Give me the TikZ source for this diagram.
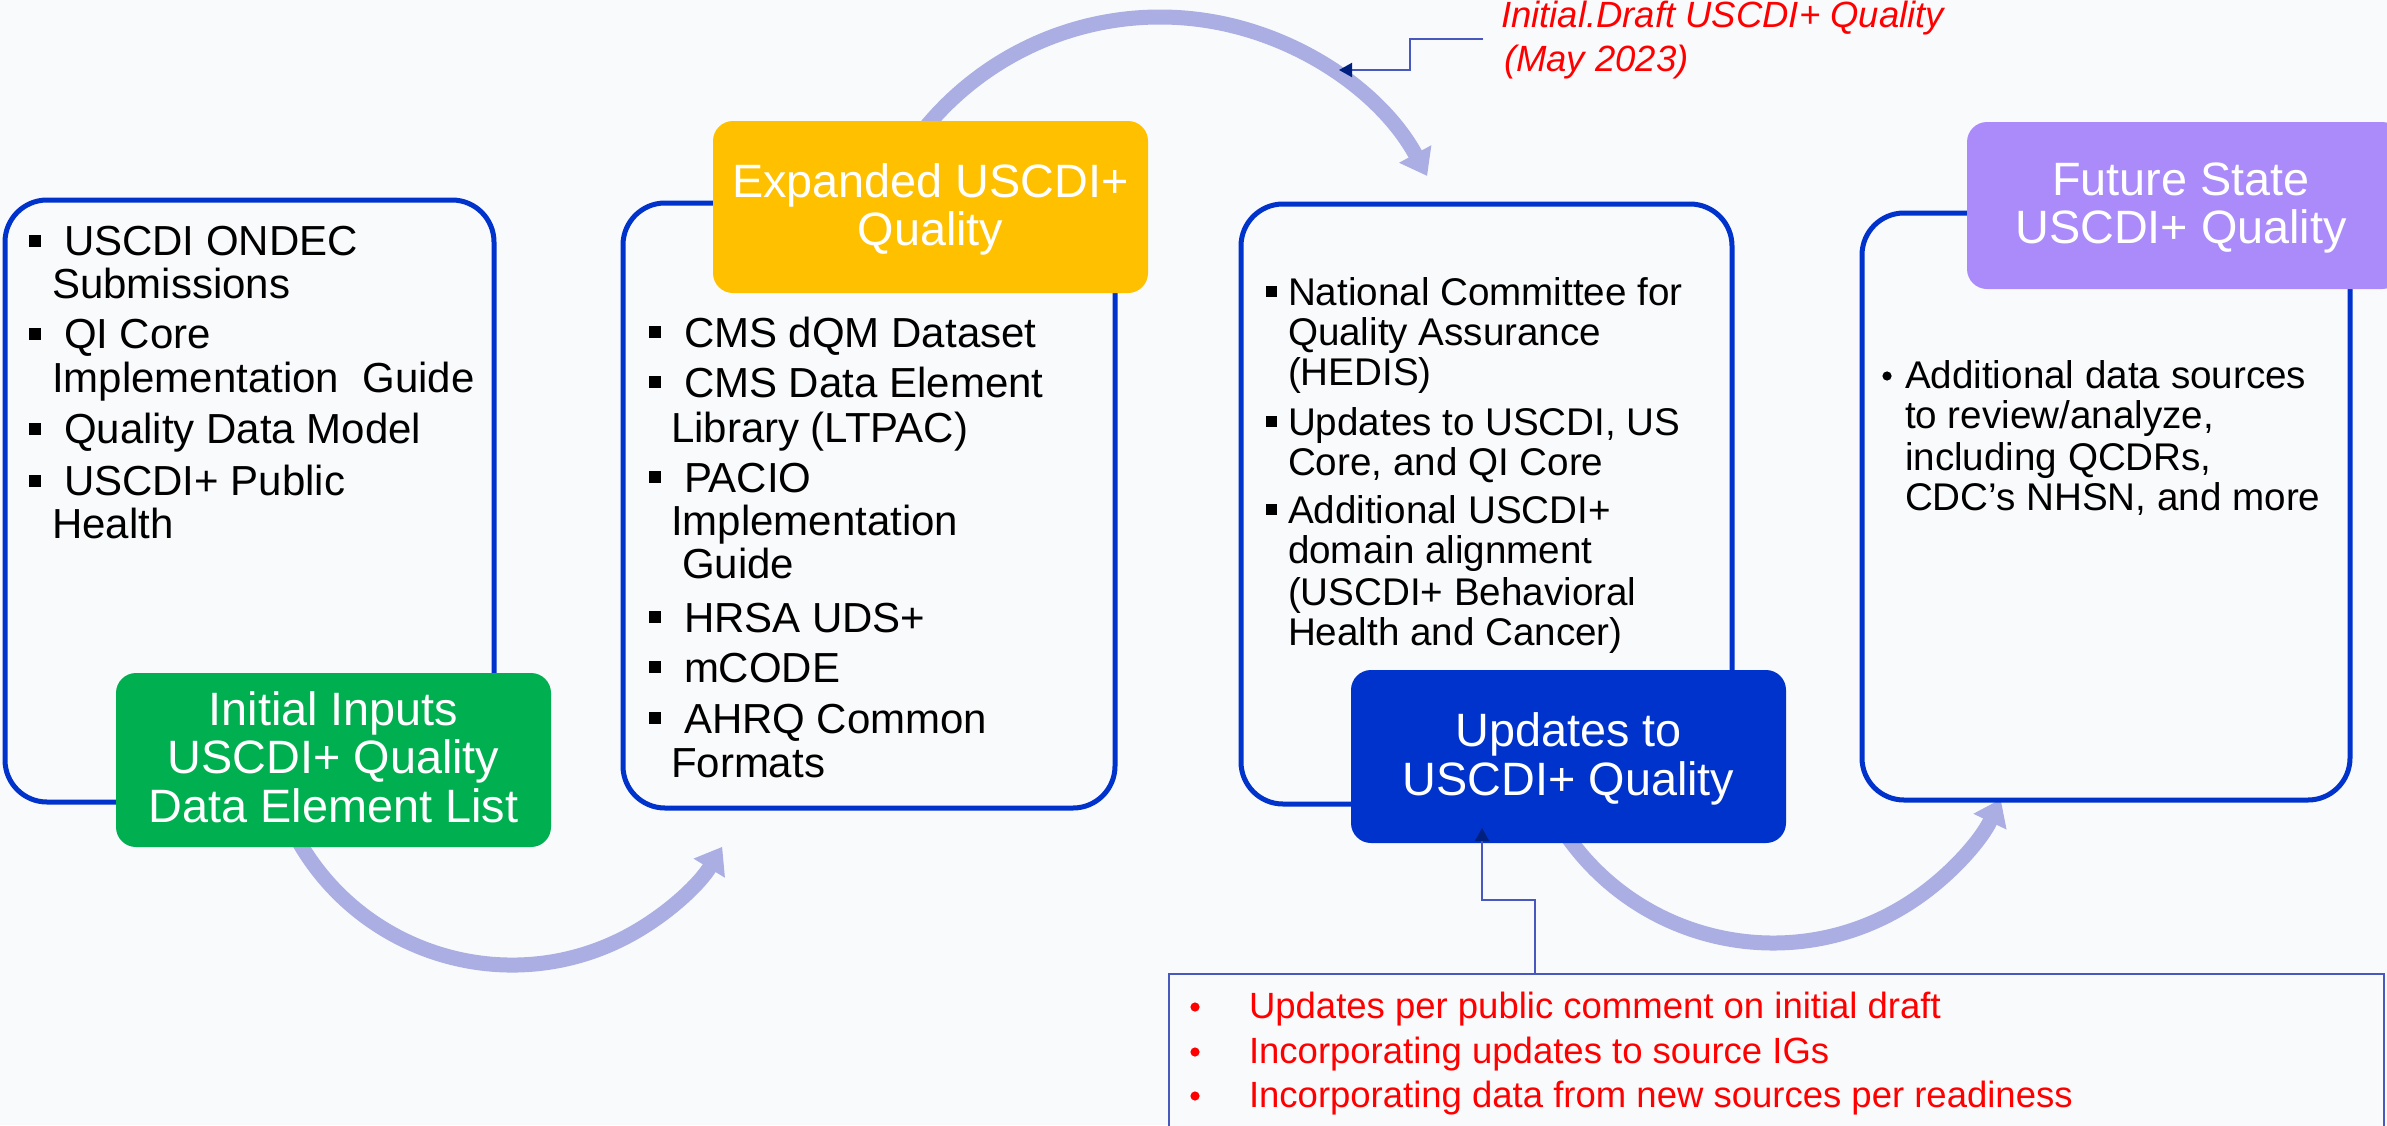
\documentclass[tikz,border=0pt]{standalone}
\usepackage{fontspec}
\setmainfont{Liberation Sans}
\usetikzlibrary{arrows.meta}
\definecolor{bgc}{RGB}{249,250,252}
\definecolor{boxblue}{RGB}{0,51,204}
\definecolor{hgreen}{RGB}{0,176,80}
\definecolor{hyellow}{RGB}{255,192,0}
\definecolor{hblue}{RGB}{0,51,204}
\definecolor{hpurple}{RGB}{171,139,250}
\definecolor{arcc}{RGB}{170,174,226}
\definecolor{calln}{RGB}{72,88,190}
\definecolor{navyc}{RGB}{0,32,128}
\definecolor{redc}{RGB}{255,0,0}
\newcommand{\fszA}{\fontsize{21pt}{25pt}\selectfont}
\newcommand{\fszB}{\fontsize{19.3pt}{23pt}\selectfont}
\newcommand{\fszH}{\fontsize{23.4pt}{27pt}\selectfont}
\newcommand{\fszC}{\fontsize{18.25pt}{22pt}\selectfont}
\begin{document}
\begin{tikzpicture}[x=0.5pt,y=-0.5pt,
  panel/.style={draw=boxblue, fill=bgc, line width=2.5pt, rounded corners=21pt, inner sep=0pt, outer sep=0pt},
  head/.style={rounded corners=10pt, inner sep=0pt, outer sep=0pt, minimum width=217.5pt},
  flow/.style={draw=arcc, line width=7.5pt, -{Triangle[width=17.5pt,length=12.5pt]}},
  callout/.style={draw=calln, line width=1pt, -{Triangle[length=6.5pt,width=7pt,color=navyc,fill=navyc]}},
  txt/.style={anchor=base west, inner sep=0pt, outer sep=0pt},
  htxt/.style={anchor=base, inner sep=0pt, outer sep=0pt, text=white, font=\fszH},
  sqb/.style={fill=black, minimum size=6pt, inner sep=0pt, outer sep=0pt},
  sqc/.style={fill=black, minimum size=5.5pt, inner sep=0pt, outer sep=0pt},
  dotb/.style={circle, fill=#1, minimum size=4.6pt, inner sep=0pt, outer sep=0pt}
]
\fill[bgc] (0,0) rectangle (2387,1125);
\useasboundingbox (0,0) rectangle (2387,1125);

% flow arcs
\coordinate (a1s) at (294.8,834.5);
\coordinate (a2s) at (927.1,125.6);
\coordinate (a3s) at (1564.1,831.9);
\draw[flow] (a1s) arc[start angle=152, end angle=31.3, radius=246];
\draw[flow] (a2s) arc[start angle=-140, end angle=-28.5, radius=304];
\draw[flow] (a3s) arc[start angle=146, end angle=25.4, radius=252];

% panels
\node[panel, minimum width=244.5pt, minimum height=301pt] (p1) at (249.5,501) {};
\node[panel, minimum width=246pt, minimum height=302.5pt] (p2) at (869,505.5) {};
\node[panel, minimum width=245.5pt, minimum height=300pt] (p3) at (1486.5,504) {};
\node[panel, minimum width=244pt, minimum height=293.5pt] (p4) at (2106,506.5) {};

% headers
\node[head, fill=hgreen, minimum height=87pt] (h1) at (333.5,760) {};
\node[head, fill=hyellow, minimum height=86pt] (h2) at (930.5,207) {};
\node[head, fill=hblue, minimum height=86.5pt] (h3) at (1568.5,756.5) {};
\node[head, fill=hpurple, minimum height=83.5pt] (h4) at (2184.5,205.5) {};

\node[htxt] (h1a) at (333.5,725) {Initial Inputs};
\node[htxt] (h1b) at (333.5,773) {USCDI+ Quality};
\node[htxt] (h1c) at (333.5,822) {Data Element List};
\node[htxt] (h2a) at (930.5,197) {Expanded USCDI+};
\node[htxt] (h2b) at (930.5,245) {Quality};
\node[htxt] (h3a) at (1568.5,746) {Updates to};
\node[htxt] (h3b) at (1568.5,795) {USCDI+ Quality};
\node[htxt] (h4a) at (2181,195) {Future State};
\node[htxt] (h4b) at (2181,243) {USCDI+ Quality};

% panel 1 text
\foreach \x/\y/\t [count=\i] in {64/255/USCDI ONDEC, 52/298/Submissions, 64/348/QI Core,
  52/392/{Implementation\hspace{0.556em}Guide}, 64/443/Quality Data Model, 64/495/USCDI+ Public, 52/538/Health}
  \node[txt, font=\fszA] (p1l\i) at (\x,\y) {\t};
\foreach \y [count=\i] in {241,334,429,481}
  \node[sqb] (p1b\i) at (35,\y) {};

% panel 2 text
\foreach \x/\y/\t [count=\i] in {684/347/CMS dQM Dataset, 684/397/CMS Data Element, 671/442/Library (LTPAC),
  684/492/PACIO, 671/535/Implementation, 682/578/Guide, 684/632/HRSA UDS+, 684/682/mCODE,
  684/733/AHRQ Common, 671/777/Formats}
  \node[txt, font=\fszA] (p2l\i) at (\x,\y) {\t};
\foreach \y [count=\i] in {332,382,477,617,667,718}
  \node[sqb] (p2b\i) at (655,\y) {};

% panel 3 text
\foreach \x/\y/\t [count=\i] in {1288/305/National Committee for, 1288/345/Quality Assurance, 1288/385/(HEDIS),
  1288/435/{Updates to USCDI, US}, 1288/475/{Core, and QI Core}, 1288/523/Additional USCDI+,
  1288/563/domain alignment, 1288/605/(USCDI+ Behavioral, 1288/645/Health and Cancer)}
  \node[txt, font=\fszB] (p3l\i) at (\x,\y) {\t};
\foreach \y [count=\i] in {291,421,509}
  \node[sqc] (p3b\i) at (1271,\y) {};

% panel 4 text
\foreach \x/\y/\t [count=\i] in {1905/388/Additional data sources, 1905/428/{to review/analyze,},
  1905/470/{including QCDRs,}, 1905/510/{CDC’s NHSN, and more}}
  \node[txt, font=\fszB] (p4l\i) at (\x,\y) {\t};
\node[dotb=black] (p4b1) at (1887,376) {};

% top red note
\node[txt, font=\fszC\itshape, text=redc] (n1a) at (1501,27) {Initial.Draft USCDI+ Quality};
\node[txt, font=\fszC\itshape, text=redc] (n1b) at (1504,71) {(May 2023)};
\coordinate (c1s) at (1483,39);
\coordinate (c1a) at (1410,39);
\coordinate (c1b) at (1410,70);
\coordinate (c1e) at (1339,70);
\draw[callout] (c1s) -- (c1a) -- (c1b) -- (c1e);

% bottom callout box
\node[draw=calln, fill=bgc, line width=1pt, inner sep=0pt, outer sep=0pt,
  minimum width=607.5pt, minimum height=83pt] (cb) at (1776.5,1057) {};
\foreach \y/\t [count=\i] in {1018/Updates per public comment on initial draft,
  1063/Incorporating updates to source IGs, 1107/Incorporating data from new sources per readiness}
  \node[txt, font=\fszC, text=redc] (cbl\i) at (1249,\y) {\t};
\foreach \y [count=\i] in {1007,1052,1096}
  \node[dotb=redc] (cbb\i) at (1195,\y) {};
\coordinate (c2s) at (1535,974);
\coordinate (c2a) at (1535,900);
\coordinate (c2b) at (1482,900);
\coordinate (c2e) at (1482,828);
\draw[callout] (c2s) -- (c2a) -- (c2b) -- (c2e);
\end{tikzpicture}
\end{document}
